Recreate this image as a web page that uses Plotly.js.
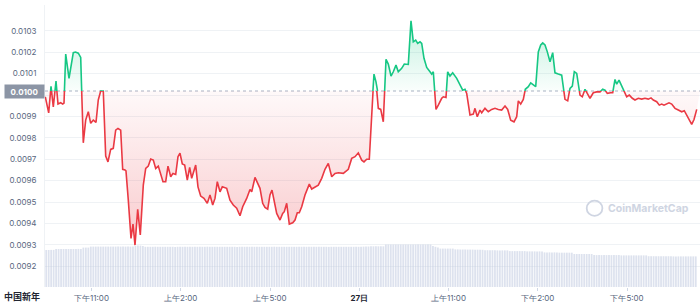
<!DOCTYPE html>
<html><head><meta charset="utf-8">
<script src="https://cdn.plot.ly/plotly-3.0.1.min.js"></script>
<style>html,body{margin:0;padding:0;background:#fff;}#chart{width:700px;height:306px;}</style>
</head><body><div id="chart"></div>
<script>
// Time in hours (23 = 下午11:00 tick)
const times = [21.447,21.561,21.639,21.716,21.807,21.874,21.965,22.032,22.076,22.133,22.244,22.388,22.462,22.556,22.637,22.671,22.724,22.805,22.892,22.973,23.060,23.151,23.228,23.309,23.396,23.477,23.554,23.645,23.732,23.813,23.890,23.981,24.048,24.126,24.159,24.237,24.328,24.395,24.462,24.553,24.640,24.741,24.822,24.909,24.990,25.077,25.158,25.245,25.326,25.403,25.494,25.571,25.662,25.739,25.830,25.907,25.974,26.052,26.132,26.220,26.300,26.368,26.502,26.579,26.670,26.781,26.892,26.983,27.074,27.151,27.228,27.319,27.396,27.544,27.655,27.766,27.880,27.991,28.082,28.216,28.327,28.385,28.495,28.606,28.663,28.754,28.831,28.922,28.999,29.067,29.134,29.225,29.336,29.426,29.480,29.561,29.648,29.763,29.840,29.917,29.984,30.065,30.176,30.321,30.401,30.512,30.623,30.737,30.848,30.959,31.074,31.185,31.296,31.464,31.632,31.746,31.857,31.968,32.082,32.159,32.250,32.337,32.418,32.495,32.562,32.640,32.721,32.808,32.899,32.976,33.067,33.144,33.235,33.312,33.426,33.514,33.648,33.739,33.816,33.897,33.964,34.042,34.099,34.176,34.267,34.378,34.435,34.489,34.579,34.657,34.771,34.825,34.915,34.972,35.050,35.140,35.275,35.386,35.477,35.554,35.611,35.722,35.833,35.890,35.967,36.058,36.115,36.226,36.337,36.451,36.562,36.673,36.787,36.899,36.989,37.090,37.201,37.292,37.346,37.426,37.514,37.581,37.682,37.763,37.850,37.931,38.018,38.099,38.166,38.243,38.321,38.411,38.502,38.579,38.690,38.804,38.915,39.006,39.083,39.161,39.228,39.309,39.420,39.497,39.588,39.665,39.756,39.867,39.981,40.092,40.183,40.260,40.337,40.452,40.519,40.596,40.653,40.731,40.821,40.899,40.989,41.077,41.178,41.268,41.379,41.493,41.604,41.715,41.806,41.884,41.998,42.085,42.166,42.243,42.334,42.411,42.502,42.613,42.724,42.838,42.925,43.006,43.094,43.174,43.252,43.343];

const prices = [0.009992,0.009917,0.010041,0.009945,0.010065,0.009958,0.009964,0.009958,0.009963,0.010192,0.010078,0.010198,0.010201,0.010196,0.010176,0.010015,0.009777,0.009883,0.009922,0.009868,0.009883,0.009872,0.009977,0.010019,0.010019,0.009715,0.009688,0.009746,0.009751,0.009836,0.009844,0.009836,0.009653,0.009650,0.009646,0.009509,0.009330,0.009397,0.009299,0.009466,0.009346,0.009579,0.009657,0.009668,0.009701,0.009696,0.009657,0.009668,0.009634,0.009595,0.009595,0.009668,0.009618,0.009634,0.009629,0.009712,0.009728,0.009678,0.009673,0.009603,0.009662,0.009611,0.009673,0.009571,0.009528,0.009517,0.009494,0.009533,0.009486,0.009517,0.009595,0.009548,0.009571,0.009564,0.009509,0.009486,0.009471,0.009436,0.009478,0.009517,0.009559,0.009548,0.009615,0.009579,0.009564,0.009494,0.009475,0.009467,0.009533,0.009556,0.009509,0.009447,0.009416,0.009447,0.009455,0.009494,0.009397,0.009403,0.009416,0.009450,0.009450,0.009478,0.009533,0.009584,0.009561,0.009571,0.009579,0.009611,0.009653,0.009681,0.009618,0.009634,0.009637,0.009634,0.009653,0.009704,0.009712,0.009730,0.009696,0.009688,0.009700,0.009700,0.009930,0.010098,0.010062,0.009938,0.009933,0.009875,0.010167,0.010145,0.010089,0.010109,0.010140,0.010109,0.010125,0.010145,0.010143,0.010347,0.010249,0.010257,0.010242,0.010249,0.010242,0.010172,0.010129,0.010109,0.010098,0.010109,0.009933,0.009953,0.009985,0.009992,0.009989,0.010109,0.010089,0.010104,0.010078,0.010047,0.010023,0.010027,0.010008,0.009907,0.009911,0.009938,0.009899,0.009930,0.009917,0.009938,0.009922,0.009933,0.009938,0.009933,0.009930,0.009949,0.009933,0.009883,0.009875,0.009899,0.009973,0.009958,0.009980,0.010027,0.010039,0.010057,0.010047,0.010039,0.010202,0.010234,0.010244,0.010234,0.010202,0.010156,0.010198,0.010104,0.010098,0.010093,0.009980,0.009973,0.010031,0.010042,0.010109,0.010101,0.010000,0.009992,0.010027,0.010008,0.009985,0.010011,0.010015,0.010015,0.010027,0.010023,0.010008,0.010011,0.010011,0.010073,0.010051,0.010070,0.010042,0.010015,0.009992,0.010000,0.009985,0.009977,0.009985,0.009981,0.009985,0.009981,0.009987,0.009977,0.009969,0.009953,0.009958,0.009953,0.009961,0.009964,0.009958,0.009938,0.009930,0.009922,0.009927,0.009907,0.009883,0.009863,0.009886,0.009933];

const basePrice = 0.010019;

// Volume bars (relative units), one per 5-minute interval
const volStart = 21.477;
const volStepHours = 1 / 12;
const volumes = [
 37.0,37.0,37.1,37.1,
 38.0,38.0,38.0,38.0,38.0,38.0,38.0,38.0,38.0,38.1,38.1,
 39.4,39.4,39.4,
 40.4,40.4,40.4,40.4,40.4,40.4,40.4,40.4,40.4,40.4,40.4,40.4,40.4,40.4,40.4,40.4,40.4,40.4,
 41.3,41.6,41.4,41.0,
 40.2,40.2,40.2,40.2,40.3,40.2,40.2,40.2,40.2,40.2,
 40.2,40.2,40.1,40.2,40.2,40.2,40.2,40.2,40.2,40.2,
 40.2,40.2,40.2,40.2,40.2,40.3,40.2,40.2,40.2,40.2,
 40.2,40.2,40.2,40.2,40.2,40.2,40.2,40.1,40.2,40.2,
 40.2,40.2,40.2,40.2,40.2,40.2,40.2,40.2,40.2,40.2,
 40.2,40.2,40.3,40.2,40.2,40.2,40.2,40.2,40.2,40.2,
 40.2,40.2,40.2,40.2,40.2,40.2,40.2,40.2,40.2,40.2,
 40.2,40.2,40.2,40.2,40.1,40.2,40.2,40.2,40.2,40.2,
 40.2,40.2,40.2,40.2,40.2,40.2,40.2,40.3,40.4,40.5,
 40.5,
 40.7,40.7,40.7,40.7,40.7,40.7,
 42.4,42.4,42.4,42.4,42.4,42.4,42.4,42.4,42.4,42.4,42.4,42.4,42.4,42.4,42.4,42.4,42.4,42.4,42.4,
 41.0,40.2,39.5,
 38.4,38.4,38.4,38.4,38.4,38.4,
 37.6,37.6,37.5,37.5,37.5,37.4,37.4,37.4,37.3,37.3,37.2,37.2,
 36.8,36.8,36.8,36.8,36.8,36.6,36.6,36.6,36.6,36.6,
 35.9,35.9,35.9,35.9,35.9,35.9,35.9,35.6,35.6,35.6,35.6,35.6,35.6,35.6,
 34.6,34.6,34.6,34.6,34.6,34.6,34.3,34.3,34.3,34.3,34.3,34.3,
 33.0,33.0,33.0,33.0,33.0,33.0,33.0,33.0,
 31.9,31.9,31.9,31.9,31.9,31.9,31.9,31.9,31.9,31.9,31.9,
 31.6,31.6,31.6,31.6,31.6,31.6,31.6,31.6,31.6,31.6,31.6,
 30.8,30.8,30.8,30.8,30.8,30.8,30.8,30.8,30.8,30.8,
 30.6,30.6,30.6,30.6,30.6,30.6,30.6,30.6,30.6,30.6
];

const yTickVals = [0.0092,0.0093,0.0094,0.0095,0.0096,0.0097,0.0098,0.0099,0.0100,0.0101,0.0102,0.0103];
const yTickText = ['0.0092','0.0093','0.0094','0.0095','0.0096','0.0097','0.0098','0.0099','','0.0101','0.0102','0.0103'];
const xTickVals = [23,26,29,32,35,38,41];
const xTickText = ['下午11:00','上午2:00','上午5:00','<b><span style="color:#222531">27日</span></b>','上午11:00','下午2:00','下午5:00'];
const dayLabel = '中国新年';
const baseLabel = '0.0100';
const brandLabel = 'CoinMarketCap';

const xMin = 21.437, xMax = 43.453;
const yMin = 0.009103, yMax = 0.010421;
const fb = (basePrice - yMin) / (yMax - yMin);
const volDomainTop = 0.17;

const GREEN = '#16c784', RED = '#ea3943';
const volTimes = volumes.map((_, i) => volStart + i * volStepHours);

const traces = [
  { // dotted reference line at opening price
    x: [xMin, xMax], y: [basePrice, basePrice], xaxis: 'x', yaxis: 'y',
    mode: 'lines', line: {color: '#a9b2c3', width: 1, dash: 'dot'}, hoverinfo: 'skip'
  },
  { // volume
    type: 'bar', x: volTimes, y: volumes, xaxis: 'x', yaxis: 'y4',
    marker: {color: 'rgba(190,200,222,0.52)', line: {width: 0}}, hoverinfo: 'skip'
  },
  { // above opening price (clipped by y2 domain)
    x: times, y: prices, xaxis: 'x', yaxis: 'y2', mode: 'lines',
    line: {color: GREEN, width: 1.6},
    fill: 'tozeroy',
    fillgradient: {type: 'vertical', start: basePrice, stop: 0.01035,
      colorscale: [[0, 'rgba(22,199,132,0.02)'], [1, 'rgba(22,199,132,0.26)']]},
    hoverinfo: 'skip'
  },
  { // baseline helper for red fill
    x: [xMin, xMax], y: [basePrice, basePrice], xaxis: 'x', yaxis: 'y3',
    mode: 'lines', line: {width: 0, color: 'rgba(0,0,0,0)'}, hoverinfo: 'skip'
  },
  { // below opening price (clipped by y3 domain)
    x: times, y: prices, xaxis: 'x', yaxis: 'y3', mode: 'lines',
    line: {color: RED, width: 1.6},
    fill: 'tonexty',
    fillgradient: {type: 'vertical', start: 0.00928, stop: basePrice,
      colorscale: [[0, 'rgba(234,57,67,0.27)'], [1, 'rgba(234,57,67,0.03)']]},
    hoverinfo: 'skip'
  }
];

const layout = {
  width: 700, height: 306,
  margin: {l: 45, r: 0, t: 5, b: 19, pad: 0},
  paper_bgcolor: '#ffffff', plot_bgcolor: 'rgba(0,0,0,0)',
  showlegend: false, hovermode: false, bargap: 0.28,
  font: {family: 'Inter, sans-serif', size: 8, color: '#58667e'},
  xaxis: {
    range: [xMin, xMax], anchor: 'y', tickvals: xTickVals, ticktext: xTickText,
    showgrid: false, zeroline: false, showline: false,
    ticks: 'outside', ticklen: 3, tickcolor: '#cfd6e4', tickwidth: 1,
    tickfont: {family: 'Inter, sans-serif', size: 8, color: '#58667e'}
  },
  yaxis: {
    domain: [0, 1], range: [yMin, yMax], tickvals: yTickVals, ticktext: yTickText,
    showgrid: true, gridcolor: '#eff2f5', gridwidth: 1, zeroline: false,
    showline: true, linecolor: '#eff2f5', linewidth: 1, ticks: '',
    ticklabelstandoff: 6,
    tickfont: {family: 'Inter, sans-serif', size: 8, color: '#58667e'}
  },
  yaxis2: {domain: [fb, 1], range: [basePrice, yMax], anchor: 'x', visible: false},
  yaxis3: {domain: [0, fb], range: [yMin, basePrice], anchor: 'x', visible: false},
  yaxis4: {domain: [0, volDomainTop], range: [0, volDomainTop * 282], anchor: 'x', visible: false},
  annotations: [
    {xref: 'paper', yref: 'y', x: 0, y: basePrice, xanchor: 'right', yanchor: 'middle',
     text: '<b>' + baseLabel + '</b>', showarrow: false, bgcolor: '#8c95a5',
     font: {family: 'Inter, sans-serif', size: 8, color: '#ffffff'},
     width: 39, height: 13, borderpad: 0, align: 'center'},
    {xref: 'paper', yref: 'paper', x: -0.035, y: -0.035, xanchor: 'center', yanchor: 'middle',
     text: '<b>' + dayLabel + '</b>', showarrow: false,
     font: {family: '"Noto Sans CJK SC", Inter, sans-serif', size: 9, color: '#222531'}},
    {xref: 'paper', yref: 'paper', x: 0.922, y: 0.28, xanchor: 'center', yanchor: 'middle',
     text: '<b>' + brandLabel + '</b>', showarrow: false,
     font: {family: 'Inter, sans-serif', size: 10.5, color: '#cfd5e2'}}
  ],
  shapes: [
    {type: 'circle', xref: 'paper', yref: 'paper', x0: 0.827, x1: 0.851, y0: 0.252, y1: 0.306,
     line: {color: '#cfd5e2', width: 1.8}, layer: 'above'}
  ]
};

Plotly.newPlot('chart', traces, layout, {staticPlot: true, displayModeBar: false});
</script>
</body></html>
